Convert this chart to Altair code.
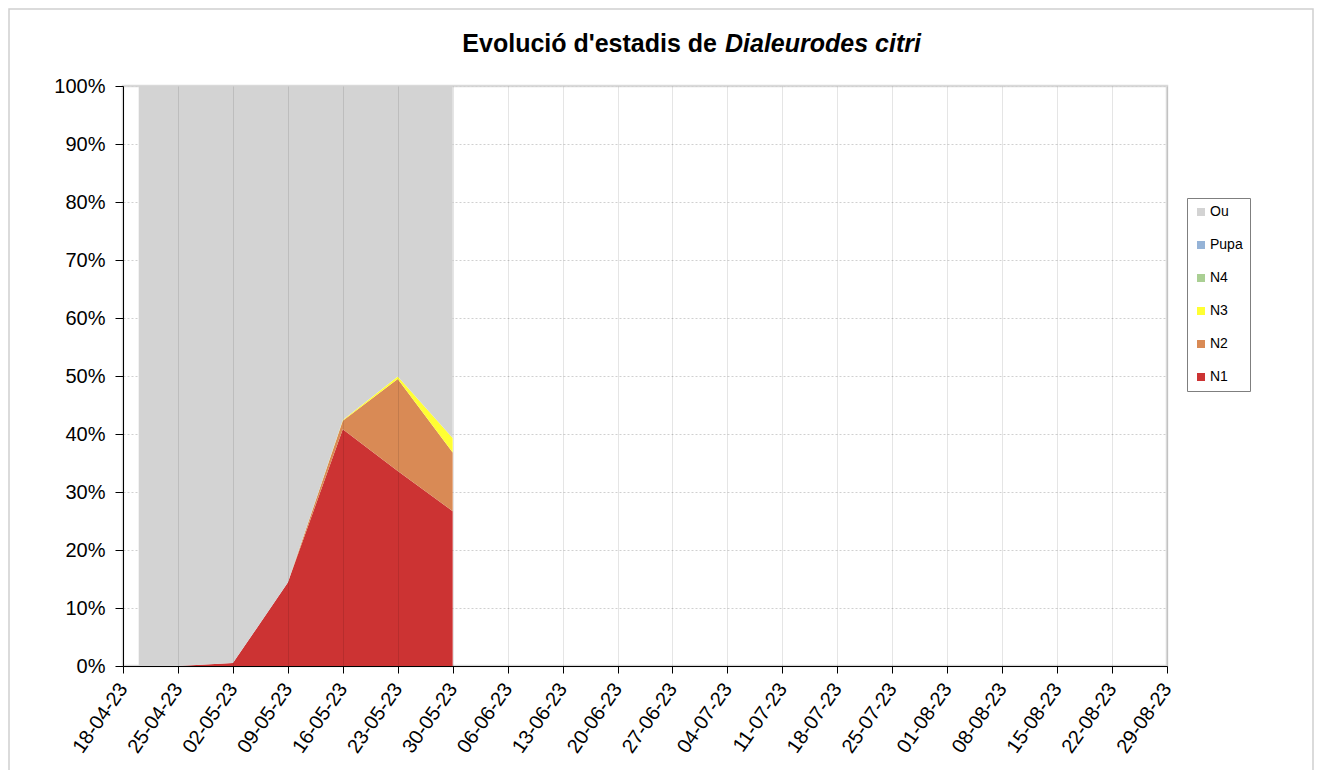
import altair as alt
import pandas as pd

# ---- data ----
sample_dates = ["2023-04-20", "2023-04-25", "2023-05-02", "2023-05-09",
                "2023-05-16", "2023-05-23", "2023-05-30"]
n1 = [0.0, 0.0, 0.5, 14.4, 40.8, 33.6, 26.7]
n2 = [0.0, 0.0, 0.0, 0.0, 1.5, 15.9, 10.1]
n3 = [0.0, 0.0, 0.0, 0.0, 0.1, 0.4, 2.5]
n4 = [0.0, 0.0, 0.0, 0.0, 0.0, 0.0, 0.0]
pupa = [0.0, 0.0, 0.0, 0.0, 0.0, 0.0, 0.0]

stages_legend = ["Ou", "Pupa", "N4", "N3", "N2", "N1"]
stage_colors = ["#d3d3d3", "#95b3d7", "#aacf93", "#ffff33", "#d98a55", "#cc3333"]

tick_dates = ["2023-04-18", "2023-04-25", "2023-05-02", "2023-05-09", "2023-05-16",
              "2023-05-23", "2023-05-30", "2023-06-06", "2023-06-13", "2023-06-20",
              "2023-06-27", "2023-07-04", "2023-07-11", "2023-07-18", "2023-07-25",
              "2023-08-01", "2023-08-08", "2023-08-15", "2023-08-22", "2023-08-29"]
y_ticks = [0, 10, 20, 30, 40, 50, 60, 70, 80, 90, 100]

title_main = "Evolució d'estadis de"
title_species = "Dialeurodes citri"

# ---- build long table ----
series = {"N1": n1, "N2": n2, "N3": n3, "N4": n4, "Pupa": pupa}
rows = []
for i, d in enumerate(sample_dates):
    total = 0.0
    for k, name in enumerate(["N1", "N2", "N3", "N4", "Pupa"]):
        v = series[name][i]
        total += v
        rows.append({"date": d + "T00:00:00", "stage": name, "value": v, "order": k})
    rows.append({"date": d + "T00:00:00", "stage": "Ou", "value": 100 - total, "order": 5})
df = pd.DataFrame(rows)


def dt(s):
    y, m, d = s.split("-")
    return alt.DateTime(year=int(y), month=int(m), date=int(d))


FONT = "Liberation Sans"

area = alt.Chart(df).mark_area(interpolate="linear").encode(
    x=alt.X("date:T",
            scale=alt.Scale(domain=[dt(tick_dates[0]), dt(tick_dates[-1])]),
            axis=alt.Axis(values=[dt(s) for s in tick_dates], format="%d-%m-%y",
                          labelAngle=-55, title=None, grid=True, labelOverlap=False,
                          gridColor="black", gridOpacity=0.1, zindex=1,
                          domainColor="black", tickColor="black", tickSize=7,
                          labelFontSize=20, labelFont=FONT, labelColor="black",
                          labelPadding=12)),
    y=alt.Y("value:Q", stack="zero",
            scale=alt.Scale(domain=[0, 100], nice=False),
            axis=alt.Axis(values=y_ticks, labelExpr="datum.value + '%'", title=None,
                          grid=True, gridColor="#d0d0d0", gridDash=[2, 2],
                          domainColor="black", tickColor="black", tickSize=8,
                          labelFontSize=20, labelFont=FONT, labelColor="black",
                          labelPadding=10)),
    color=alt.Color("stage:N",
                    scale=alt.Scale(domain=stages_legend, range=stage_colors),
                    legend=alt.Legend(orient="none", legendX=1064, legendY=112,
                                      title=None, symbolType="square", symbolSize=64,
                                      symbolStrokeWidth=0, labelFontSize=14,
                                      labelFont=FONT, labelColor="black",
                                      strokeColor="#7f7f7f", fillColor="white",
                                      padding=7, rowPadding=19, labelOffset=2)),
    order=alt.Order("order:Q"),
)

t1 = alt.Chart(alt.Data(values=[{"t": title_main}])).mark_text(
    align="right", baseline="alphabetic", font=FONT, fontSize=25, fontWeight="bold",
    color="black").encode(x=alt.value(594), y=alt.value(-34), text="t:N")
t2 = alt.Chart(alt.Data(values=[{"t": title_species}])).mark_text(
    align="left", baseline="alphabetic", font=FONT, fontSize=25, fontWeight="bold",
    fontStyle="italic", color="black").encode(x=alt.value(602), y=alt.value(-34), text="t:N")

frame = alt.Chart(alt.Data(values=[{}])).mark_rect(
    fill="transparent", stroke="#d0d0d0", strokeWidth=1.5).encode(
    x=alt.value(-114), x2=alt.value(1190), y=alt.value(-77), y2=alt.value(700))

chart = alt.layer(frame, area, t1, t2).properties(
    width=1044, height=580,
    autosize=alt.AutoSizeParams(type="none"),
    padding={"left": 115, "top": 78, "right": 147, "bottom": 104},
    background="white",
).configure_view(stroke="#d9d9d9", strokeWidth=2.5)

chart.save("out.html", embed_options={"renderer": "svg", "actions": False})
